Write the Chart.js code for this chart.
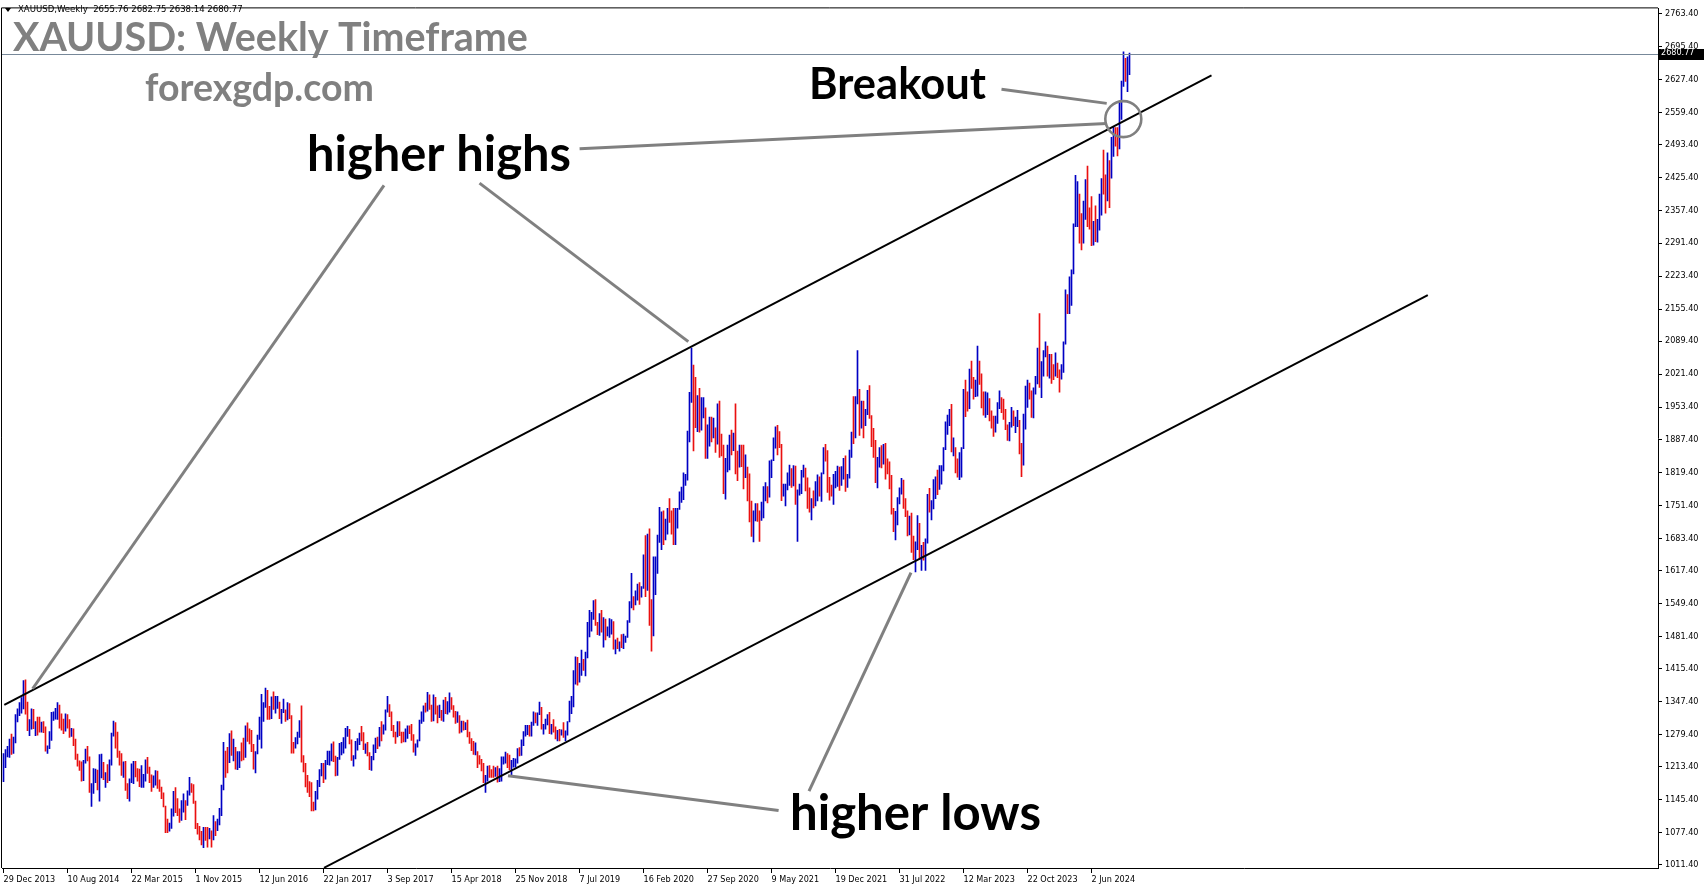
<!DOCTYPE html>
<html>
<head>
<meta charset="utf-8">
<script src="https://cdn.jsdelivr.net/npm/chart.js@4.4.1/dist/chart.umd.min.js"></script>
<style>
  html, body { margin: 0; padding: 0; background: #fff; }
  #wrap { width: 1705px; height: 888px; }
</style>
</head>
<body>
<div id="wrap"><canvas id="goldChart" width="1705" height="888"></canvas></div>
<script>
// XAUUSD weekly bars, one per week starting 29 Dec 2013
const symbol = 'XAUUSD,Weekly';
const firstOpen = 1204;

const highs = [
  // 2014
  1240,1248,1255,1270,1280,1274,1320,1332,1345,1355,1390,1392,1346,1310,1332,1331,1306,1315,1315,1305,1306,1295,1256,1285,1325,1326,1333,1345,1340,1322,1311,1322,1320,1310,1292,1291,1270,1239,1225,1223,1226,1249,1255,1233,1178,1209,1208,1206,1238,1239,1222,1201,1217,
  // 2015
  1227,1282,1307,1304,1284,1245,1240,1223,1224,1178,1188,1219,1224,1224,1209,1208,1215,1197,1227,1232,1212,1196,1194,1205,1204,1186,1171,1159,1132,1105,1097,1126,1162,1170,1147,1126,1143,1157,1143,1163,1191,1178,1176,1142,1096,1090,1080,1088,1088,1088,1086,1081,
  // 2016
  1112,1100,1105,1127,1175,1263,1245,1253,1281,1287,1270,1253,1244,1244,1262,1272,1297,1303,1291,1288,1259,1244,1278,1315,1362,1345,1375,1370,1337,1357,1367,1358,1358,1346,1331,1352,1330,1345,1343,1318,1263,1273,1284,1308,1338,1236,1220,1195,1182,1180,1140,1162,
  // 2017
  1185,1207,1220,1220,1226,1245,1245,1260,1264,1235,1232,1261,1263,1273,1292,1296,1290,1268,1236,1265,1271,1282,1296,1283,1260,1263,1242,1234,1258,1272,1274,1294,1306,1299,1330,1358,1341,1326,1298,1284,1306,1306,1284,1284,1291,1297,1297,1300,1279,1260,1268,1309,
  // 2018
  1326,1338,1344,1366,1361,1340,1361,1356,1338,1340,1329,1350,1356,1347,1365,1355,1339,1327,1326,1318,1307,1307,1304,1309,1284,1271,1265,1262,1244,1236,1228,1220,1195,1214,1215,1207,1214,1211,1214,1209,1233,1233,1243,1240,1237,1226,1230,1229,1250,1252,1268,1285,
  // 2019
  1298,1298,1298,1305,1326,1324,1324,1346,1335,1300,1311,1320,1325,1300,1310,1295,1288,1290,1289,1304,1287,1306,1348,1358,1411,1439,1438,1426,1453,1434,1449,1510,1535,1531,1555,1557,1510,1528,1535,1520,1517,1501,1518,1516,1512,1474,1478,1470,1485,1486,1482,1514,
  // 2020
  1553,1611,1563,1575,1589,1592,1584,1649,1689,1692,1703,1557,1645,1645,1690,1747,1738,1740,1723,1745,1765,1740,1745,1745,1745,1779,1789,1818,1815,1904,1984,2075,2040,2015,1977,1992,1973,1973,1952,1917,1933,1933,1931,1911,1960,1966,1898,1875,1848,1875,1896,1906,1900,
  // 2021
  1960,1863,1875,1875,1875,1855,1830,1816,1760,1740,1755,1755,1740,1758,1790,1798,1790,1843,1845,1890,1913,1916,1903,1877,1795,1795,1818,1834,1827,1833,1832,1783,1795,1823,1834,1828,1808,1787,1765,1781,1800,1814,1810,1818,1870,1877,1864,1809,1793,1815,1821,1832,
  // 2022
  1830,1831,1848,1853,1815,1865,1902,1975,1975,2070,1990,1966,1966,1949,1988,1998,1936,1910,1885,1850,1870,1874,1877,1879,1847,1841,1813,1745,1739,1767,1787,1807,1803,1765,1740,1729,1735,1688,1676,1730,1714,1669,1675,1682,1774,1786,1761,1804,1810,1824,1833,1833,
  // 2023
  1870,1923,1937,1949,1959,1890,1870,1847,1860,1870,1990,2009,1985,2032,2048,2015,2009,2079,2048,2022,1985,1985,1983,1971,1946,1935,1935,1963,1987,1973,1970,1949,1917,1922,1953,1946,1933,1947,1926,1879,1939,1997,2009,2003,1987,1993,2017,2075,2146,2047,2070,2088,
  // 2024
  2079,2062,2062,2041,2065,2044,2030,2041,2088,2195,2185,2222,2236,2331,2431,2418,2392,2352,2378,2422,2450,2364,2387,2336,2368,2340,2392,2424,2483,2432,2477,2461,2509,2531,2529,2529,2581,2625,2685,2672,2675,2682.75
];

const lows = [
  // 2014
  1182,1211,1233,1232,1238,1240,1262,1305,1318,1323,1332,1321,1287,1277,1290,1291,1277,1278,1284,1284,1283,1245,1240,1250,1267,1308,1311,1310,1292,1288,1281,1286,1292,1273,1275,1256,1228,1214,1205,1183,1184,1220,1225,1160,1131,1158,1180,1165,1142,1190,1186,1170,1180,
  // 2015
  1184,1216,1276,1251,1232,1216,1195,1191,1164,1147,1142,1180,1178,1192,1183,1172,1170,1170,1183,1199,1180,1162,1170,1175,1168,1162,1147,1130,1077,1077,1080,1086,1111,1118,1112,1098,1102,1119,1104,1133,1154,1160,1137,1085,1074,1062,1052,1046,1061,1047,1064,1047,
  // 2016
  1062,1071,1081,1093,1112,1165,1191,1200,1221,1236,1225,1208,1207,1211,1225,1227,1232,1265,1260,1244,1208,1200,1239,1269,1251,1306,1335,1310,1310,1312,1331,1323,1333,1312,1302,1324,1306,1309,1312,1241,1241,1251,1260,1273,1222,1202,1171,1160,1151,1122,1122,1124,
  // 2017
  1146,1172,1194,1180,1187,1217,1216,1225,1223,1194,1195,1228,1237,1241,1251,1275,1260,1226,1214,1229,1247,1258,1266,1248,1240,1235,1207,1205,1227,1242,1250,1255,1266,1280,1288,1325,1316,1287,1274,1261,1274,1277,1262,1264,1264,1271,1281,1267,1243,1236,1253,1266,
  // 2018
  1302,1306,1325,1327,1331,1306,1307,1321,1303,1314,1308,1306,1322,1321,1325,1331,1315,1302,1304,1282,1284,1288,1289,1274,1261,1246,1238,1237,1211,1218,1204,1180,1160,1183,1191,1191,1191,1193,1181,1182,1183,1218,1220,1211,1206,1196,1212,1212,1220,1235,1236,1256,
  // 2019
  1276,1279,1276,1276,1298,1303,1298,1320,1290,1280,1290,1299,1281,1280,1284,1270,1266,1266,1278,1273,1266,1278,1305,1322,1336,1383,1381,1387,1401,1411,1400,1437,1480,1492,1516,1504,1485,1483,1490,1459,1474,1482,1479,1486,1455,1445,1456,1451,1458,1456,1469,1479,
  // 2020
  1510,1540,1536,1546,1556,1547,1562,1580,1563,1576,1504,1451,1482,1567,1611,1675,1660,1670,1680,1692,1716,1692,1670,1670,1704,1743,1757,1763,1792,1803,1882,1963,1863,1911,1903,1902,1906,1931,1848,1848,1873,1882,1890,1860,1877,1850,1853,1775,1764,1820,1824,1855,1864,
  // 2021
  1816,1802,1830,1831,1785,1808,1760,1717,1687,1676,1719,1718,1677,1720,1725,1760,1756,1768,1808,1843,1869,1855,1870,1761,1770,1750,1783,1792,1788,1791,1753,1677,1772,1775,1809,1781,1745,1737,1721,1746,1750,1760,1770,1759,1816,1842,1778,1762,1770,1753,1787,1790,
  // 2022
  1782,1792,1805,1780,1788,1807,1850,1878,1890,1960,1895,1910,1890,1915,1938,1930,1872,1850,1798,1787,1830,1828,1836,1805,1816,1785,1733,1697,1680,1711,1754,1774,1745,1728,1688,1690,1654,1639,1614,1660,1640,1617,1638,1617,1673,1737,1721,1744,1765,1773,1784,1795,
  // 2023
  1822,1866,1897,1915,1861,1853,1818,1809,1804,1809,1868,1934,1945,1950,1992,1970,1975,1976,2000,1952,1937,1932,1938,1925,1910,1893,1902,1920,1950,1942,1928,1907,1885,1884,1912,1915,1901,1913,1857,1810,1834,1908,1953,1970,1932,1931,1980,2001,1994,1973,2017,2057,
  // 2024
  2017,2013,2002,2010,2017,2014,1984,2011,2025,2083,2146,2146,2163,2228,2325,2325,2291,2277,2291,2340,2325,2320,2286,2287,2294,2293,2318,2349,2392,2353,2378,2364,2425,2470,2491,2471,2485,2546,2614,2624,2603,2638.14
];

const closes = [
  // 2014
  1237,1247,1254,1264,1240,1262,1318,1326,1326,1339,1379,1335,1294,1303,1318,1293,1301,1300,1290,1293,1292,1250,1252,1275,1316,1316,1318,1338,1310,1307,1293,1310,1306,1281,1287,1268,1230,1216,1215,1192,1222,1238,1231,1170,1178,1191,1197,1175,1191,1222,1195,1195,1189,
  // 2015
  1223,1277,1293,1283,1234,1228,1205,1213,1167,1153,1182,1199,1218,1207,1204,1178,1178,1189,1225,1204,1190,1168,1180,1201,1172,1164,1156,1131,1098,1094,1094,1113,1160,1133,1121,1103,1137,1145,1137,1155,1177,1163,1141,1088,1081,1076,1056,1085,1075,1065,1076,1061,
  // 2016
  1098,1089,1097,1117,1173,1239,1227,1222,1270,1250,1254,1217,1221,1243,1234,1232,1292,1289,1272,1252,1215,1243,1275,1298,1322,1339,1366,1327,1322,1357,1335,1335,1341,1321,1327,1328,1310,1337,1316,1257,1252,1266,1276,1304,1225,1208,1183,1177,1160,1134,1133,1152,
  // 2017
  1173,1196,1205,1191,1220,1234,1238,1257,1226,1201,1229,1248,1249,1254,1288,1288,1268,1228,1228,1254,1268,1280,1267,1256,1256,1242,1212,1228,1255,1268,1258,1288,1284,1291,1325,1346,1320,1297,1280,1275,1303,1280,1272,1269,1274,1294,1288,1280,1248,1256,1267,1303,
  // 2018
  1322,1337,1332,1348,1333,1315,1347,1329,1322,1323,1313,1347,1325,1332,1345,1336,1323,1315,1318,1291,1302,1294,1298,1278,1270,1252,1241,1241,1232,1223,1213,1183,1184,1206,1198,1197,1193,1199,1191,1203,1221,1228,1235,1234,1211,1222,1222,1222,1248,1238,1258,1281,
  // 2019
  1285,1290,1282,1303,1318,1314,1322,1329,1294,1298,1302,1313,1292,1292,1290,1275,1286,1280,1285,1276,1284,1305,1341,1341,1400,1409,1398,1415,1426,1419,1440,1497,1513,1527,1529,1506,1488,1517,1497,1504,1489,1490,1504,1509,1461,1468,1463,1464,1460,1476,1479,1511,
  // 2020
  1552,1562,1557,1571,1589,1570,1584,1643,1585,1674,1530,1498,1617,1620,1683,1683,1728,1700,1702,1743,1734,1730,1684,1730,1743,1771,1775,1799,1810,1902,1975,2035,1944,1940,1964,1933,1940,1950,1861,1900,1930,1899,1902,1878,1951,1889,1871,1788,1839,1839,1881,1877,1895,
  // 2021
  1850,1828,1856,1848,1814,1824,1784,1734,1700,1727,1745,1733,1728,1744,1777,1777,1768,1831,1844,1881,1905,1891,1877,1764,1781,1787,1808,1815,1802,1814,1763,1780,1781,1818,1827,1787,1754,1750,1761,1757,1767,1793,1783,1817,1868,1846,1793,1783,1782,1805,1808,1829,
  // 2022
  1797,1817,1835,1791,1808,1859,1898,1889,1970,1988,1921,1958,1925,1945,1975,1932,1897,1883,1811,1846,1853,1851,1871,1840,1827,1811,1742,1703,1727,1766,1775,1802,1747,1738,1712,1716,1675,1644,1661,1695,1644,1657,1644,1681,1771,1750,1755,1797,1797,1793,1798,1824,
  // 2023
  1866,1920,1926,1928,1865,1865,1842,1811,1856,1867,1989,1978,1969,2007,2004,1983,1990,2016,2010,1977,1946,1948,1961,1958,1921,1919,1925,1955,1962,1959,1943,1914,1889,1915,1940,1919,1924,1925,1866,1833,1933,1981,2006,1993,1940,1981,2002,2072,2004,2019,2053,2063,
  // 2024
  2049,2049,2029,2018,2039,2024,2013,2035,2083,2178,2155,2165,2233,2330,2344,2392,2337,2301,2360,2415,2334,2327,2294,2332,2321,2326,2391,2411,2400,2386,2443,2431,2507,2512,2503,2497,2577,2622,2658,2653,2655.76,2680.77
];

// time axis labels, one every 32 weekly bars
const dateTickBars = [0, 32, 64, 96, 128, 160, 192, 224, 256, 288, 320, 352, 384, 416, 448, 480, 512, 544];
const dateLabels = ['29 Dec 2013', '10 Aug 2014', '22 Mar 2015', '1 Nov 2015', '12 Jun 2016', '22 Jan 2017',
  '3 Sep 2017', '15 Apr 2018', '25 Nov 2018', '7 Jul 2019', '16 Feb 2020', '27 Sep 2020', '9 May 2021',
  '19 Dec 2021', '31 Jul 2022', '12 Mar 2023', '22 Oct 2023', '2 Jun 2024'];

// price axis labels
const priceTicks = [2763.4, 2695.4, 2627.4, 2559.4, 2493.4, 2425.4, 2357.4, 2291.4, 2223.4, 2155.4, 2089.4,
  2021.4, 1953.4, 1887.4, 1819.4, 1751.4, 1683.4, 1617.4, 1549.4, 1481.4, 1415.4, 1347.4, 1279.4, 1213.4,
  1145.4, 1077.4, 1011.4];

// drawn analysis objects, anchored as [bar, price]
const channelLines = [
  [[0.4, 1340.2], [604, 2636.8]],
  [[160.25, 1004.7], [712.15, 2183.9]]
];
const pointerLines = [
  [[190.25, 2410.3], [14.55, 1373.4]],
  [[238, 2414.8], [342.4, 2088.3]],
  [[288.05, 2485.7], [551.6, 2537.5]],
  [[499, 2608.0], [551.6, 2579.0]],
  [[453.75, 1612.8], [402.75, 1162.6]],
  [[252.25, 1194.2], [387.55, 1122.7]]
];
const breakoutCircle = { bar: 559.9, price: 2546.6, radius: 18 };
const notes = [
  { text: 'higher highs', bar: 151.75, price: 2439.8, width: 264 },
  { text: 'Breakout', bar: 402.75, price: 2588.8, width: 177 },
  { text: 'higher lows', bar: 393.25, price: 1082.8, width: 251 }
];

const UP = '#0000c4';
const DOWN = '#ea1010';
const AXIS_FONT = "'DejaVu Sans Condensed', 'DejaVu Sans', sans-serif";
const BIG_FONT = "Lato, 'Open Sans', sans-serif";

const bars = highs.map((h, i) => ({ x: i, y: [lows[i], h] }));
const barColors = closes.map((c, i) => c >= (i ? closes[i - 1] : firstOpen) ? UP : DOWN);

function fitFont(ctx, text, width) {
  ctx.font = 'bold 100px ' + BIG_FONT;
  return 100 * width / ctx.measureText(text).width;
}

function drawFitted(ctx, text, x, baseline, width, color) {
  const size = fitFont(ctx, text, width);
  ctx.font = 'bold ' + size.toFixed(2) + 'px ' + BIG_FONT;
  ctx.fillStyle = color;
  ctx.textAlign = 'left';
  ctx.textBaseline = 'alphabetic';
  ctx.fillText(text, x, baseline);
}

const overlay = {
  id: 'overlay',
  afterDatasetsDraw(chart) {
    const { ctx, chartArea: a, scales: { x, y } } = chart;
    const px = ([b, p]) => [x.getPixelForValue(b), y.getPixelForValue(p)];
    ctx.save();
    ctx.beginPath();
    ctx.rect(a.left, a.top, a.right - a.left, a.bottom - a.top);
    ctx.clip();

    // last price line
    const yLast = Math.round(y.getPixelForValue(closes[closes.length - 1])) + 0.5;
    ctx.strokeStyle = '#778899';
    ctx.lineWidth = 1;
    ctx.beginPath();
    ctx.moveTo(a.left, yLast);
    ctx.lineTo(a.right, yLast);
    ctx.stroke();

    // channel
    ctx.strokeStyle = '#000';
    ctx.lineWidth = 2;
    channelLines.forEach(([p0, p1]) => {
      const [x0, y0] = px(p0), [x1, y1] = px(p1);
      ctx.beginPath(); ctx.moveTo(x0, y0); ctx.lineTo(x1, y1); ctx.stroke();
    });

    // pointers
    ctx.strokeStyle = '#808080';
    ctx.lineWidth = 3;
    pointerLines.forEach(([p0, p1]) => {
      const [x0, y0] = px(p0), [x1, y1] = px(p1);
      ctx.beginPath(); ctx.moveTo(x0, y0); ctx.lineTo(x1, y1); ctx.stroke();
    });
    const [cx, cy] = px([breakoutCircle.bar, breakoutCircle.price]);
    ctx.lineWidth = 2.6;
    ctx.beginPath();
    ctx.arc(cx, cy, breakoutCircle.radius, 0, Math.PI * 2);
    ctx.stroke();

    // notes
    notes.forEach(n => {
      const [nx, ny] = px([n.bar, n.price]);
      drawFitted(ctx, n.text, nx, ny, n.width, '#000');
    });
    ctx.restore();
  },
  afterDraw(chart) {
    const { ctx, chartArea: a, scales: { y } } = chart;
    ctx.save();
    // frame left / top
    ctx.strokeStyle = '#000';
    ctx.lineWidth = 1;
    ctx.beginPath();
    ctx.moveTo(a.left - 0.5, a.bottom);
    ctx.lineTo(a.left - 0.5, a.top - 0.5);
    ctx.lineTo(a.right, a.top - 0.5);
    ctx.stroke();

    // header
    const n = closes.length - 1;
    const ohlc = [closes[n - 1], highs[n], lows[n], closes[n]].map(v => v.toFixed(2)).join(' ');
    ctx.fillStyle = '#000';
    ctx.font = '9.5px ' + AXIS_FONT;
    ctx.textBaseline = 'middle';
    ctx.textAlign = 'left';
    ctx.beginPath();
    ctx.moveTo(5, 8); ctx.lineTo(11, 8); ctx.lineTo(8, 12); ctx.closePath();
    ctx.fill();
    ctx.fillText(symbol + '  ' + ohlc, 18, 10);

    // watermark
    drawFitted(ctx, 'XAUUSD: Weekly Timeframe', 13, 51, 515, '#808080');
    drawFitted(ctx, 'forexgdp.com', 145, 101, 229, '#808080');

    // last price box
    const yl = Math.round(y.getPixelForValue(closes[n]));
    ctx.fillStyle = '#000';
    ctx.fillRect(a.right + 1, yl - 5, 45, 11);
    ctx.fillStyle = '#fff';
    ctx.font = '9px ' + AXIS_FONT;
    ctx.fillText(closes[n].toFixed(2), a.right + 3, yl + 0.5);
    ctx.restore();
  }
};

new Chart(document.getElementById('goldChart').getContext('2d'), {
  type: 'bar',
  data: {
    datasets: [{
      data: bars,
      backgroundColor: barColors,
      borderWidth: 0,
      barThickness: 1,
      grouped: false
    }]
  },
  options: {
    responsive: false,
    animation: false,
    devicePixelRatio: 1,
    layout: { padding: { left: 2, top: 1, right: 0, bottom: 0 } },
    plugins: { legend: { display: false }, tooltip: { enabled: false } },
    scales: {
      x: {
        type: 'linear',
        offset: false,
        min: -0.75,
        max: 827.25,
        grid: { drawOnChartArea: false, offset: false, color: '#000', tickLength: 5 },
        border: { color: '#000', width: 1 },
        ticks: {
          autoSkip: false, maxRotation: 0, align: 'start', padding: 1,
          color: '#000', font: { family: AXIS_FONT, size: 9 },
          callback: v => dateLabels[dateTickBars.indexOf(v)] || ''
        },
        afterBuildTicks: axis => { axis.ticks = dateTickBars.map(v => ({ value: v })); },
        afterFit: axis => { axis.height = 20; }
      },
      y: {
        position: 'right',
        min: 1004.25,
        max: 2774.6,
        grid: { drawOnChartArea: false, color: '#000', tickLength: 4 },
        border: { color: '#000', width: 1 },
        ticks: {
          autoSkip: false, padding: 3,
          color: '#000', font: { family: AXIS_FONT, size: 9 },
          callback: v => v.toFixed(2)
        },
        afterBuildTicks: axis => { axis.ticks = priceTicks.map(v => ({ value: v })); },
        afterFit: axis => { axis.width = 47; }
      }
    }
  },
  plugins: [overlay]
});
</script>
</body>
</html>
